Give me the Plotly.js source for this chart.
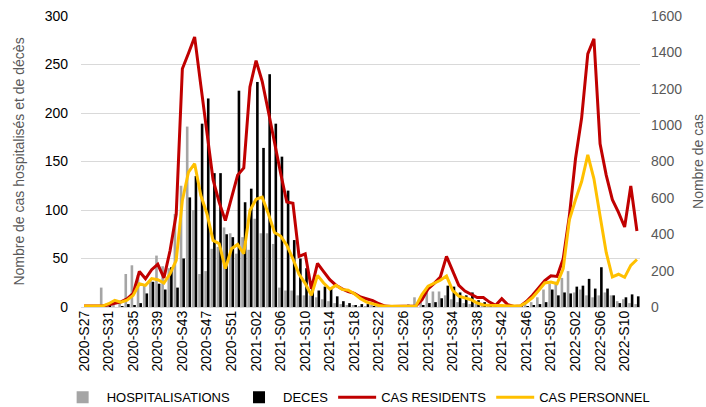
<!DOCTYPE html>
<html>
<head>
<meta charset="utf-8">
<script src="https://cdn.plot.ly/plotly-3.0.1.min.js"></script>
<style>
  html, body { margin: 0; padding: 0; background: white; }
  #chart { width: 706px; height: 407px; }
</style>
</head>
<body>
<div id="chart"></div>
<script>
var weeks = [
  "2020-S27","2020-S28","2020-S29","2020-S30","2020-S31","2020-S32","2020-S33","2020-S34","2020-S35","2020-S36",
  "2020-S37","2020-S38","2020-S39","2020-S40","2020-S41","2020-S42","2020-S43","2020-S44","2020-S45","2020-S46",
  "2020-S47","2020-S48","2020-S49","2020-S50","2020-S51","2020-S52","2020-S53",
  "2021-S01","2021-S02","2021-S03","2021-S04","2021-S05","2021-S06","2021-S07","2021-S08","2021-S09","2021-S10",
  "2021-S11","2021-S12","2021-S13","2021-S14","2021-S15","2021-S16","2021-S17","2021-S18","2021-S19","2021-S20",
  "2021-S21","2021-S22","2021-S23","2021-S24","2021-S25","2021-S26","2021-S27","2021-S28","2021-S29","2021-S30",
  "2021-S31","2021-S32","2021-S33","2021-S34","2021-S35","2021-S36","2021-S37","2021-S38","2021-S39","2021-S40",
  "2021-S41","2021-S42","2021-S43","2021-S44","2021-S45","2021-S46","2021-S47","2021-S48","2021-S49","2021-S50",
  "2021-S51","2021-S52",
  "2022-S01","2022-S02","2022-S03","2022-S04","2022-S05","2022-S06","2022-S07","2022-S08","2022-S09","2022-S10",
  "2022-S11","2022-S12"
];

// hospitalisations (axe gauche)
var hospitalisations = [
  0,2,1,20,4,2,6,34,43,33, 22,28,53,42,40,96,125,186,100,34, 37,60,62,82,76,55,72,
  59,91,76,76,65,20,17,17,12,12, 12,10,8,6,4,3,2,2,1,1, 2,1,1,0,1,2,3,10,10,15,
  16,16,12,8,5,4,3,3,2,1, 1,1,1,1,2,4,5,10,18,24, 26,30,
  37,15,18,12,10,12,15,12,6,8, 4,3
];

// deces (axe gauche)
var deces = [
  0,0,0,0,2,0,1,3,2,4, 14,26,24,18,41,20,50,113,135,189, 215,138,138,75,72,223,108,
  122,232,164,240,189,155,120,69,50,40, 24,17,21,19,11,6,4,2,3,3, 1,1,0,0,0,0,1,0,2,4,
  5,9,22,21,15,12,15,7,5,2, 1,1,0,0,1,1,2,3,5,18, 12,15,
  14,21,22,29,19,41,19,12,4,10, 13,11
];

// cas residents (axe droit)
var casResidents = [
  5,5,5,5,12,22,28,45,75,195, 155,205,235,160,310,510,1310,1395,1485,1220, 955,700,575,475,600,725,765,
  1210,1355,1240,1075,900,735,577,570,278,292, 100,240,195,150,120,100,85,75,55,45, 35,18,5,3,3,3,3,5,40,100,
  130,165,278,195,119,88,68,52,52,27, 9,46,12,3,5,30,65,108,145,172, 168,265,
  500,815,1040,1392,1475,897,725,590,520,440, 665,418
];

// cas personnel (axe droit)
var casPersonnel = [
  5,5,5,5,18,37,27,37,64,128, 119,156,150,132,183,256,586,742,788,614, 513,366,348,211,320,344,293,
  531,592,604,513,410,390,340,265,180,130, 64,174,132,98,119,97,92,73,46,27, 17,8,4,3,3,3,4,5,68,115,
  130,147,170,92,60,50,40,22,11,9, 10,8,5,4,6,25,52,91,132,137, 128,211,
  480,590,690,836,705,500,300,165,180,163, 229,261
];

var tickWeeks = weeks.filter(function (w, i) { return i % 4 === 0; });

var data = [
  {
    x: weeks, y: hospitalisations, type: 'bar', name: 'HOSPITALISATIONS',
    marker: {color: '#A5A5A5'}, yaxis: 'y'
  },
  {
    x: weeks, y: deces, type: 'bar', name: 'DECES',
    marker: {color: '#000000'}, yaxis: 'y'
  },
  {
    x: weeks, y: casResidents, type: 'scatter', mode: 'lines', name: 'CAS RESIDENTS',
    line: {color: '#C00000', width: 3}, yaxis: 'y2'
  },
  {
    x: weeks, y: casPersonnel, type: 'scatter', mode: 'lines', name: 'CAS PERSONNEL',
    line: {color: '#FFC000', width: 3}, yaxis: 'y2'
  }
];

var layout = {
  width: 706,
  height: 407,
  paper_bgcolor: 'white',
  plot_bgcolor: 'white',
  font: {family: 'Liberation Sans, Arial, sans-serif', size: 13, color: '#000000'},
  margin: {l: 81, r: 66, t: 16, b: 100, autoexpand: false},
  barmode: 'group',
  bargap: 0.15,
  bargroupgap: 0,
  showlegend: true,
  legend: {
    orientation: 'h', x: -0.04, xanchor: 'left',
    y: -0.31, yanchor: 'middle',
    font: {size: 13, color: '#000000'}, itemwidth: 38, traceorder: 'normal'
  },
  xaxis: {
    type: 'category',
    tickmode: 'array',
    tickvals: tickWeeks,
    ticktext: tickWeeks,
    tickangle: -90,
    tickfont: {size: 14, color: '#000000'},
    showgrid: false,
    showline: false,
    ticks: '',
    automargin: false
  },
  yaxis: {
    range: [0, 300],
    dtick: 50,
    gridcolor: '#D9D9D9',
    zerolinecolor: '#D9D9D9',
    tickfont: {size: 14, color: '#000000'},
    ticklabelstandoff: 12,
    title: {text: 'Nombre de cas hospitalisés et de décès', font: {size: 14, color: '#595959'}, standoff: 16},
    automargin: false
  },
  yaxis2: {
    overlaying: 'y',
    side: 'right',
    range: [0, 1600],
    dtick: 200,
    showgrid: false,
    zeroline: false,
    tickfont: {size: 14, color: '#595959'},
    ticklabelstandoff: 10,
    title: {text: 'Nombre de cas', font: {size: 14, color: '#595959'}, standoff: 14},
    automargin: false
  }
};

//Create the chart
Plotly.newPlot('chart', data, layout, {displayModeBar: false});
</script>
</body>
</html>
